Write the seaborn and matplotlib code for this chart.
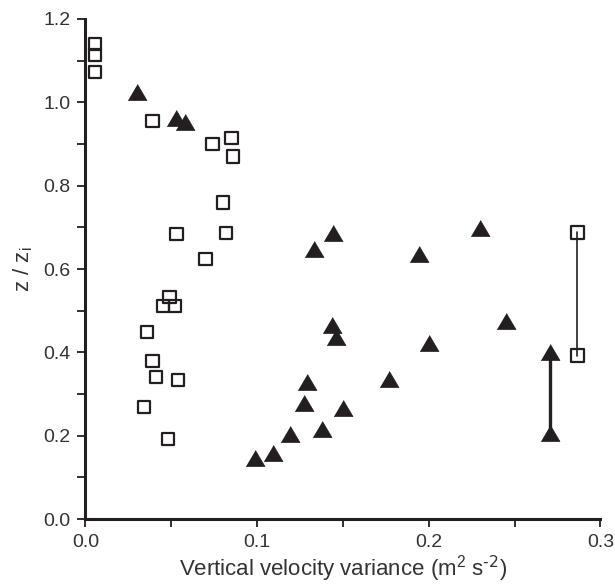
import numpy as np
import pandas as pd
import matplotlib
matplotlib.use("Agg")
import matplotlib.pyplot as plt
from matplotlib.ticker import MultipleLocator, FormatStrFormatter
import seaborn as sns

# open squares
sq_x = [0.0055, 0.0055, 0.0055, 0.039, 0.074, 0.085, 0.086, 0.080, 0.082, 0.053,
        0.070, 0.049, 0.045, 0.052, 0.036, 0.039, 0.041, 0.054, 0.034, 0.048,
        0.2866, 0.2866]
sq_y = [1.14, 1.114, 1.073, 0.955, 0.90, 0.915, 0.87, 0.76, 0.686, 0.684,
        0.624, 0.533, 0.511, 0.511, 0.449, 0.379, 0.341, 0.334, 0.269, 0.192,
        0.688, 0.392]

# filled triangles
tr_x = [0.030, 0.0528, 0.058, 0.133, 0.144, 0.1436, 0.146, 0.129, 0.127, 0.150,
        0.138, 0.119, 0.109, 0.099, 0.230, 0.194, 0.245, 0.200, 0.1766,
        0.2705, 0.2705]
tr_y = [1.025, 0.962, 0.953, 0.647, 0.686, 0.466, 0.436, 0.328, 0.279, 0.266,
        0.216, 0.204, 0.158, 0.147, 0.698, 0.636, 0.476, 0.423, 0.336,
        0.401, 0.206]

# range bars at the right
sq_bar_x = [0.2866, 0.2866]
sq_bar_y = [0.392, 0.688]
tr_bar_x = [0.2705, 0.2705]
tr_bar_y = [0.206, 0.401]

INK = "#231f20"
TXT = "#333333"

sns.set_style("ticks")
plt.rcParams["font.family"] = ["Liberation Sans", "DejaVu Sans"]
plt.rcParams["mathtext.default"] = "regular"

df = pd.DataFrame({
    "x": sq_x + tr_x,
    "y": sq_y + tr_y,
    "kind": ["sq"] * len(sq_x) + ["tr"] * len(tr_x),
})

fig = plt.figure(figsize=(6.15, 5.86), dpi=100)
ax = fig.add_axes([0.139, 0.1143, 0.8374, 0.8533])

ax.plot(sq_bar_x, sq_bar_y, color=INK, lw=1.2, zorder=1)
ax.plot(tr_bar_x, tr_bar_y, color=INK, lw=2.4, zorder=1)

tri = [(-1.0, -0.85), (1.0, -0.85), (0.0, 0.85)]
sns.scatterplot(data=df[df.kind == "sq"], x="x", y="y", ax=ax, marker="s",
                s=80, facecolor="none", edgecolor=INK, linewidth=1.6, zorder=3)
sns.scatterplot(data=df[df.kind == "tr"], x="x", y="y", ax=ax, marker=tri,
                s=185, color=INK, edgecolor=INK, linewidth=0.5, zorder=3)

ax.set_xlim(0, 0.3)
ax.set_ylim(0, 1.2)
ax.xaxis.set_major_locator(MultipleLocator(0.1))
ax.xaxis.set_minor_locator(MultipleLocator(0.05))
ax.yaxis.set_major_locator(MultipleLocator(0.2))
ax.yaxis.set_minor_locator(MultipleLocator(0.1))
ax.xaxis.set_major_formatter(FormatStrFormatter("%.1f"))
ax.yaxis.set_major_formatter(FormatStrFormatter("%.1f"))
ax.tick_params(which="both", direction="out", length=6, width=1.3, color=INK,
               labelsize=14, labelcolor=TXT, pad=5)

for side in ["left", "bottom"]:
    ax.spines[side].set_linewidth(2.2)
    ax.spines[side].set_color(INK)
sns.despine(ax=ax)

ax.set_xlabel(r"Vertical velocity variance (m$^2$ s$^{\text{-2}}$)", fontsize=16,
              color=TXT, labelpad=2)
ax.set_ylabel("z / z$_i$", fontsize=16, color=TXT, labelpad=6)

fig.savefig("out.png", dpi=100)
